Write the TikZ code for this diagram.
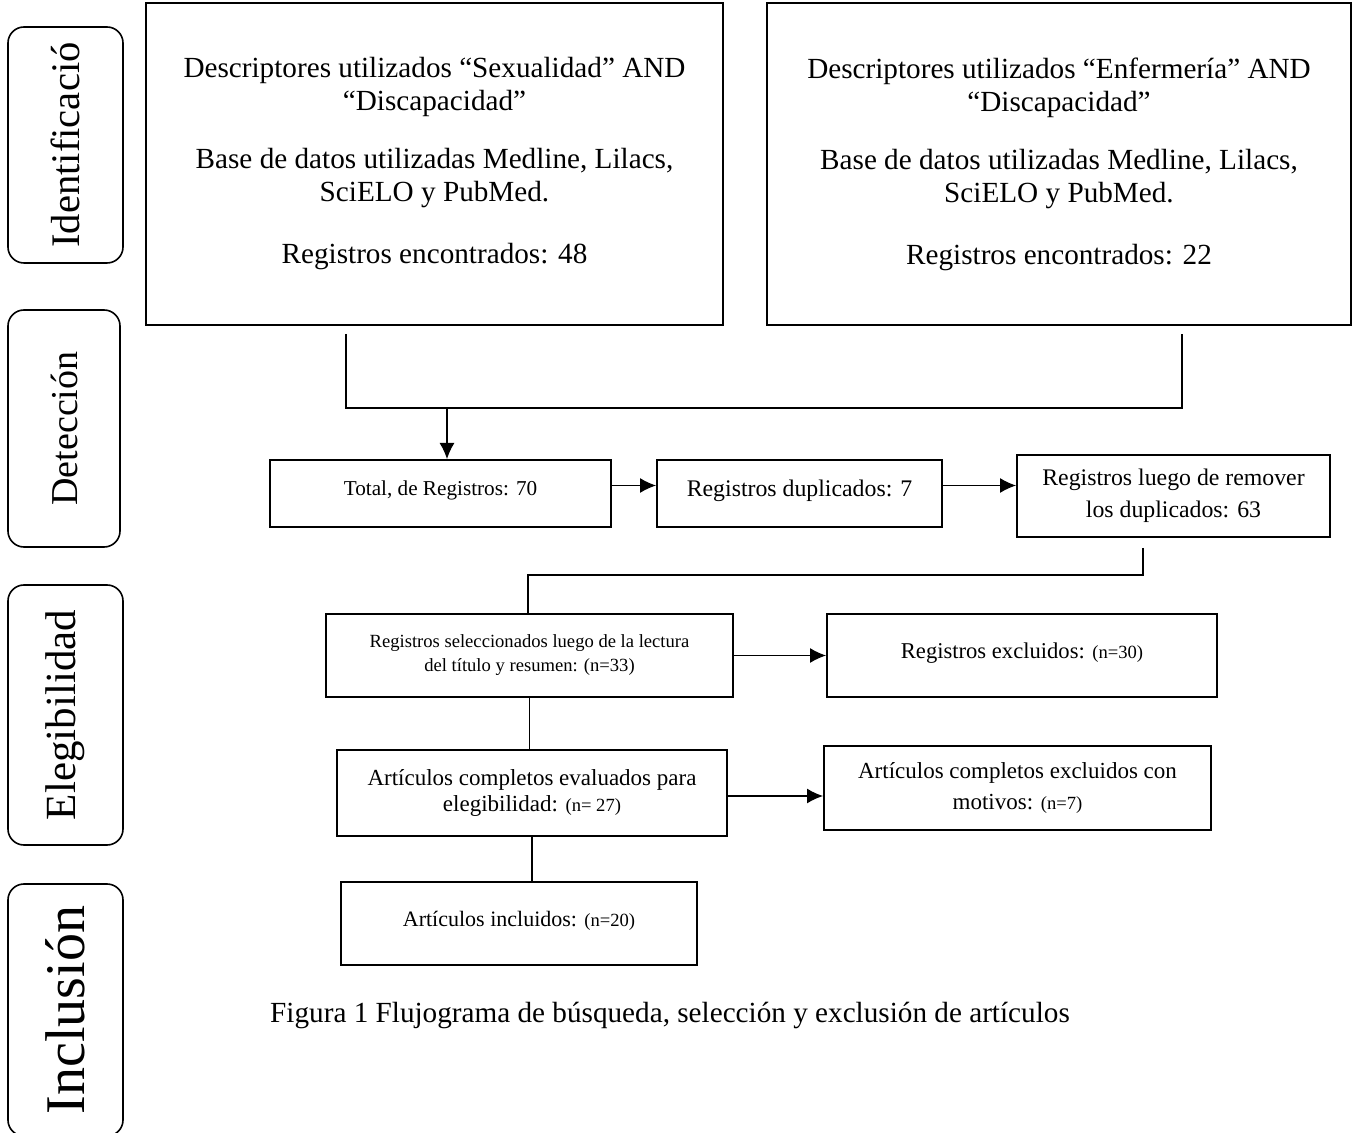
\documentclass[tikz,border=0pt]{standalone}
\usepackage{fontspec}
\setmainfont{Liberation Serif}
\usepackage{tikz}
\usetikzlibrary{positioning}
\usetikzlibrary{arrows.meta}

\newcommand{\fs}[2]{\fontsize{#1}{#2}\selectfont}
\newcommand{\nsm}[1]{{\fontsize{9.3}{11}\selectfont #1}}
\newcommand{\bajo}{\rule[-5pt]{0pt}{0pt}}

\begin{document}
\begin{tikzpicture}
    [x=0.5pt, y=-0.5pt,
     fase/.style={rectangle, draw, rounded corners=8pt, line width=0.8pt, rotate=90, inner sep=0pt},
     caja/.style={rectangle, draw, line width=1pt, align=center, inner sep=2pt},
     con/.style={line width=0.6pt},
     flecha/.style={con, -{Latex[length=8pt, width=7.5pt]}}]

    \useasboundingbox (0,0) rectangle (1360,1133);

    % fases
    \node [fase, minimum width=118pt, minimum height=57.5pt, font=\fs{20.3}{22}] (ide) at (65.5,145) {Identificació};
    \node [fase, minimum width=118.5pt, minimum height=56pt, font=\fs{19}{22}] (det) at (64,428.5) {Detección};
    \node [fase, minimum width=130pt, minimum height=57.5pt, font=\fs{21.5}{24}] (ele) at (65.5,715) {Elegibilidad};
    \node [fase, minimum width=126pt, minimum height=57.5pt, font=\fs{28}{30}] (fin) at (65.5,1010) {Inclusión};

    % busquedas
    \node [caja, minimum width=288.5pt, minimum height=161pt, font=\fs{14.6}{16.5}] (sex) at (434.5,164) {
    Descriptores utilizados “Sexualidad” AND\\“Discapacidad”\\[12.5pt]
    Base de datos utilizadas Medline, Lilacs,\\SciELO y PubMed.\\[14.5pt]
    Registros encontrados: 48};
    \node [caja, minimum width=292pt, minimum height=161pt, font=\fs{14.6}{16.5}] (enf) at (1059,164) {
    Descriptores utilizados “Enfermería” AND\\“Discapacidad”\\[12.5pt]
    Base de datos utilizadas Medline, Lilacs,\\SciELO y PubMed.\\[14.5pt]
    Registros encontrados: 22};

    % deteccion
    \node [caja, minimum width=170.5pt, minimum height=33.5pt, font=\fs{10.6}{13}] (tot) at (440.5,493.5) {Total, de Registros: 70\bajo};
    \node [caja, minimum width=142.5pt, minimum height=33.5pt, font=\fs{11.9}{14}] (dup) at (799.5,493.5) {Registros duplicados: 7\bajo};
    \node [caja, minimum width=156.5pt, minimum height=41pt, font=\fs{11.9}{16}] (rem) at (1173.5,496) {Registros luego de remover\\los duplicados: 63};

    % elegibilidad
    \node [caja, minimum width=203.5pt, minimum height=41.5pt, font=\fs{9.3}{12}] (sel) at (529.5,655.5) {Registros seleccionados luego de la lectura\\del título y resumen: (n=33)};
    \node [caja, minimum width=195pt, minimum height=41.5pt, font=\fs{11.3}{14}] (exc) at (1022,655.5) {Registros excluidos: \nsm{(n=30)}\bajo};
    \node [caja, minimum width=195pt, minimum height=43pt, font=\fs{11.5}{13}] (eva) at (532,793) {Artículos completos evaluados para\\elegibilidad: \nsm{(n= 27)}};
    \node [caja, minimum width=193.5pt, minimum height=42pt, font=\fs{11.5}{15.5}] (exm) at (1017.5,788) {Artículos completos excluidos con\\motivos: \nsm{(n=7)}};

    % inclusion
    \node [caja, minimum width=178pt, minimum height=41.5pt, font=\fs{11}{14}] (inc) at (519,923.5) {Artículos incluidos: \nsm{(n=20)}\bajo};

    \node [font=\fs{14.6}{17}] (pie) at (670,1015) {Figura 1 Flujograma de búsqueda, selección y exclusión de artículos};

    % conectores
    \coordinate (ja) at (346,408);
    \coordinate (jb) at (1182,408);
    \coordinate (jt) at (447,408);
    \draw [con] ([yshift=-4pt]sex.south -| ja) -- (ja) -- (jb) -- ([yshift=-4pt]enf.south -| jb);
    \draw [flecha] (jt) -- (jt |- tot.north);
    \draw [flecha] ([yshift=4pt]tot.east) -- ([yshift=4pt]tot.east -| dup.west);
    \draw [flecha] ([yshift=4pt]dup.east) -- ([yshift=4pt]dup.east -| rem.west);

    \coordinate (kr) at (1143,575);
    \coordinate (ks) at (528,575);
    \draw [con] ([yshift=-5pt]rem.south -| kr) -- (kr) -- (ks) -- (ks |- sel.north);
    \draw [flecha] (sel.east) -- (sel.east -| exc.west);
    \draw [con] (sel.south) -- (sel.south |- eva.north);
    \draw [flecha] ([yshift=-1.5pt]eva.east) -- ([yshift=-1.5pt]eva.east -| exm.west);
    \draw [con] (eva.south) -- (eva.south |- inc.north);
\end{tikzpicture}
\end{document}
